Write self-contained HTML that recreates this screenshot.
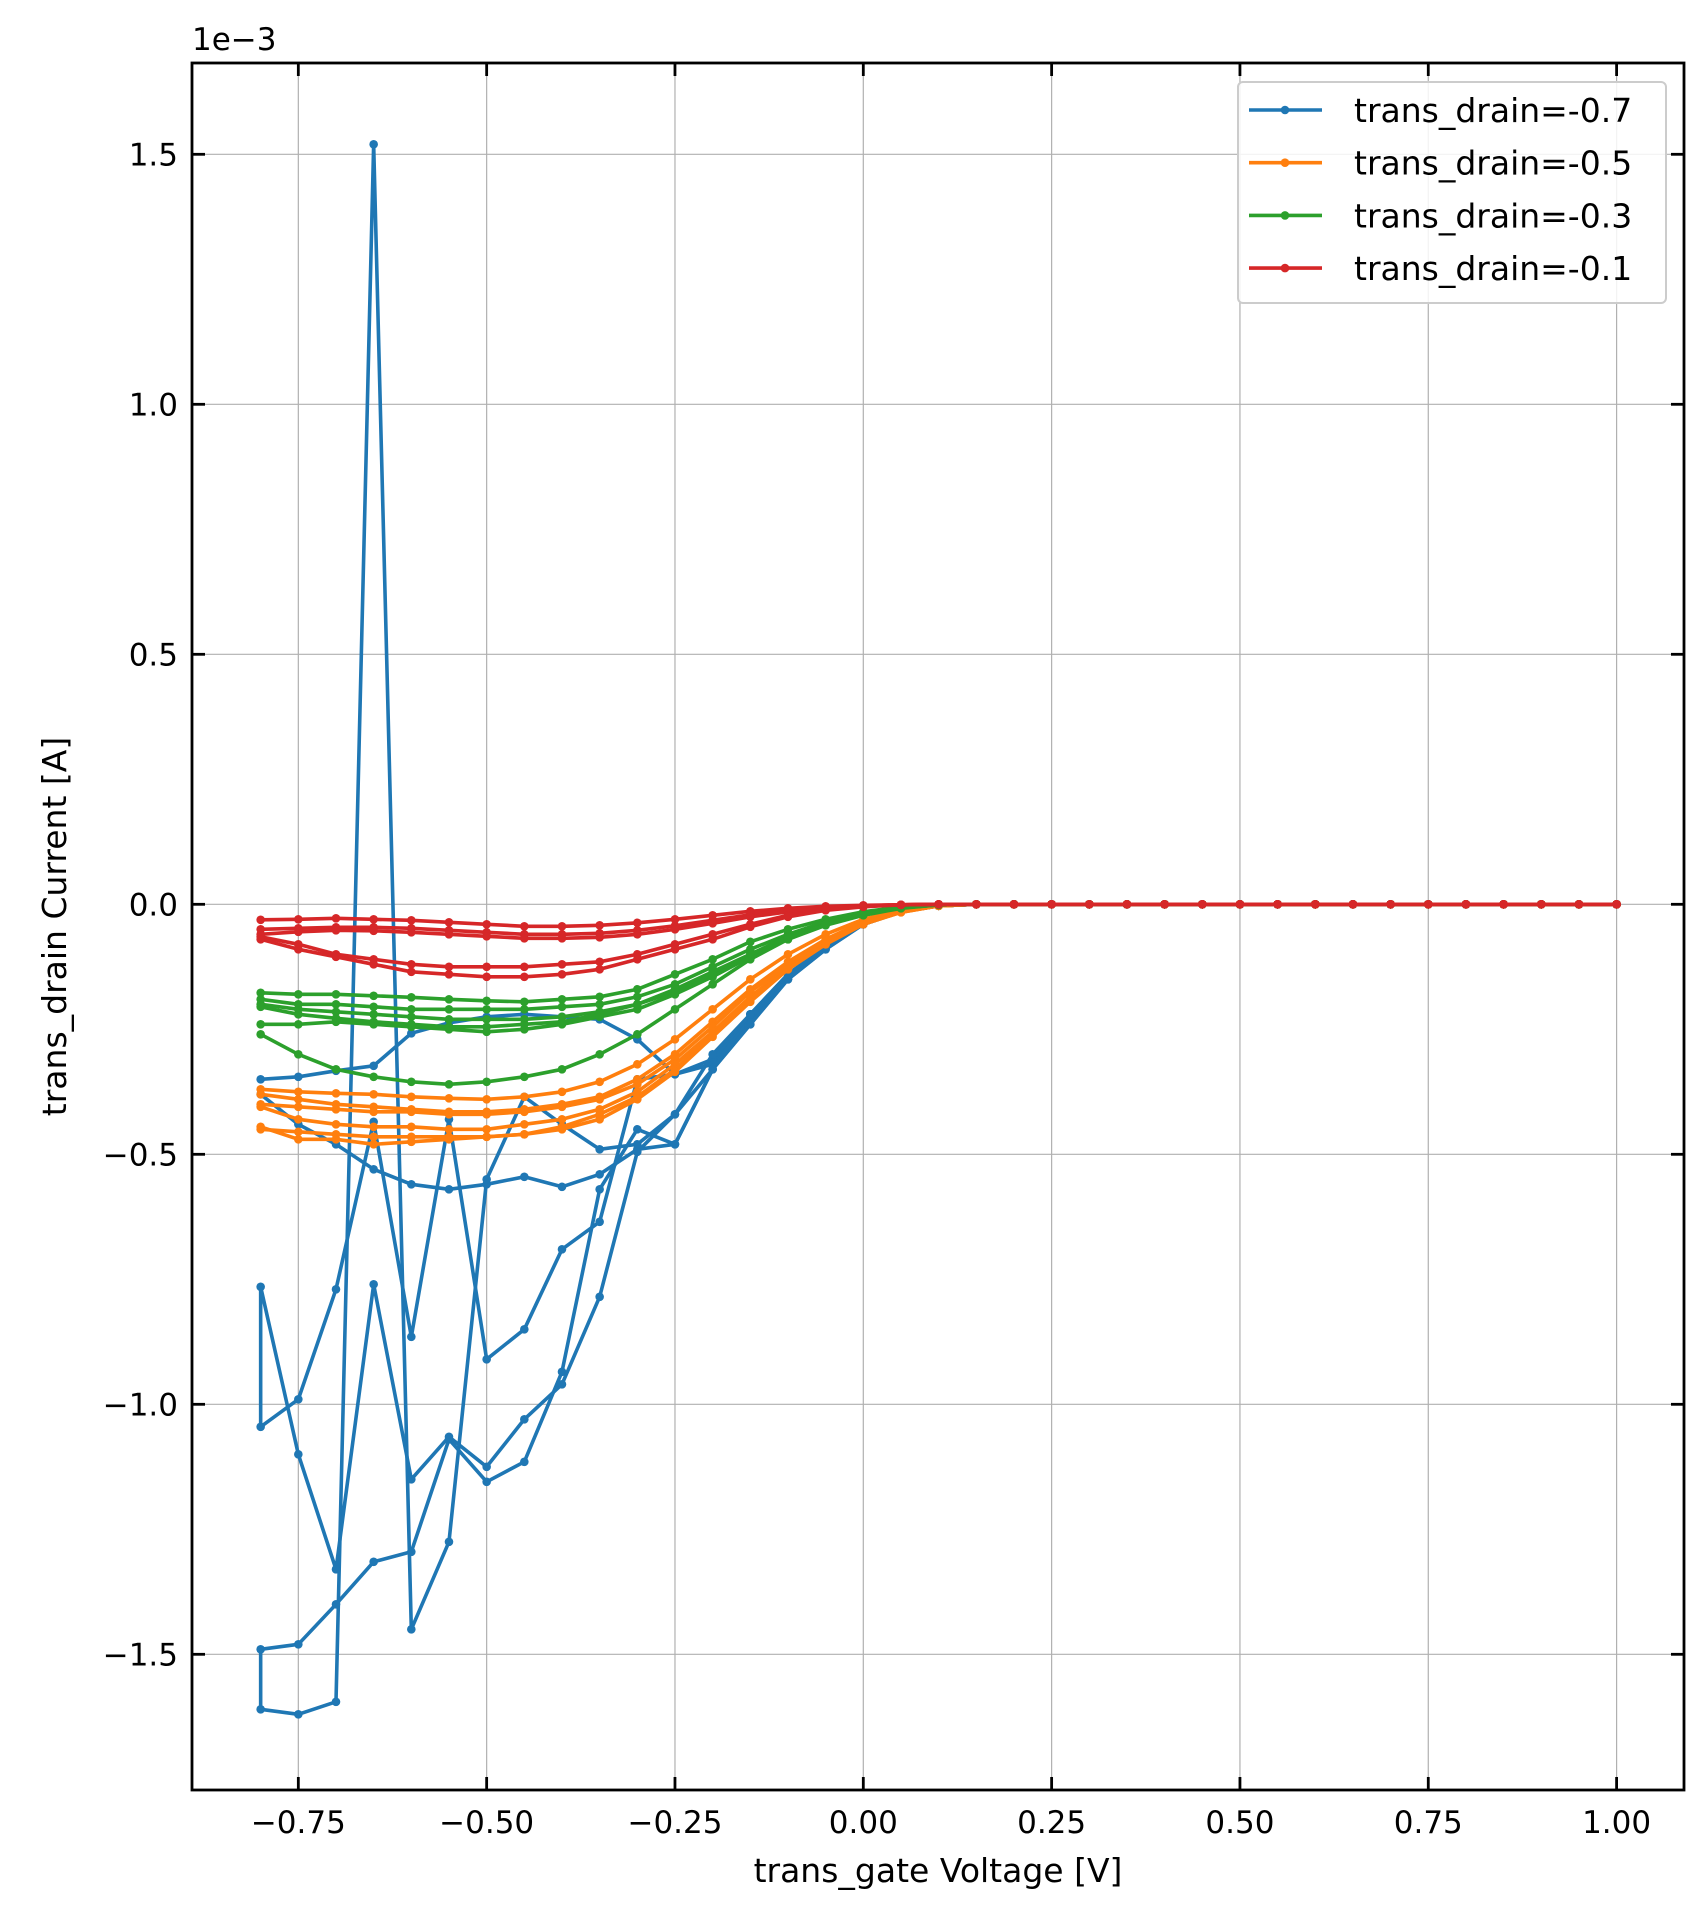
<!DOCTYPE html>
<html><head><meta charset="utf-8"><style>
body{margin:0;background:#fff}
svg text{font-family:"DejaVu Sans","Liberation Sans",sans-serif;fill:#000}
</style></head><body>
<svg id="chart" width="1701" height="1902" viewBox="0 0 1701 1902" xmlns="http://www.w3.org/2000/svg">
<rect width="1701" height="1902" fill="#fff"/>
<g id="grid"></g><g id="series"></g><g id="axes"></g><g id="legend"></g>
</svg>
<script>
const xTicks=[-0.75,-0.5,-0.25,0,0.25,0.5,0.75,1.0];
const xTickLabels=["−0.75","−0.50","−0.25","0.00","0.25","0.50","0.75","1.00"];
const yTicks=[-1.5,-1.0,-0.5,0,0.5,1.0,1.5];
const yTickLabels=["−1.5","−1.0","−0.5","0.0","0.5","1.0","1.5"];
const xStart=-0.8, xStep=0.05, nPoints=37;
const seriesNames=["trans_drain=-0.7","trans_drain=-0.5","trans_drain=-0.3","trans_drain=-0.1"];
const seriesColors=["#1f77b4","#ff7f0e","#2ca02c","#d62728"];
const blueCurves=[
[-0.35,-0.345,-0.333,-0.323,-0.258,-0.237,-0.225,-0.22,-0.225,-0.23,-0.27,-0.34,-0.32,-0.23,-0.15,-0.085,-0.04,-0.015,-0.003],
[-0.38,-0.44,-0.48,-0.53,-0.56,-0.57,-0.56,-0.545,-0.565,-0.54,-0.49,-0.48,-0.33,-0.24,-0.15,-0.09,-0.04,-0.015,-0.003],
[-1.61,-1.62,-1.595,1.52,-1.45,-1.275,-0.55,-0.385,-0.44,-0.49,-0.48,-0.42,-0.33,-0.24,-0.15,-0.09,-0.04,-0.015,-0.003],
[-1.49,-1.48,-1.4,-1.315,-1.295,-1.07,-1.155,-1.115,-0.935,-0.57,-0.45,-0.48,-0.33,-0.22,-0.14,-0.085,-0.04,-0.015,-0.003],
[-1.045,-0.99,-0.77,-0.435,-0.865,-0.43,-0.91,-0.85,-0.69,-0.635,-0.35,-0.34,-0.31,-0.22,-0.14,-0.085,-0.04,-0.015,-0.003],
[-0.765,-1.1,-1.33,-0.76,-1.15,-1.065,-1.125,-1.03,-0.96,-0.785,-0.495,-0.42,-0.3,-0.22,-0.14,-0.085,-0.04,-0.015,-0.003]];
const blueLinks=[[-1.49,-1.61],[-0.765,-1.045]];
const orangeCurves=[
[-0.37,-0.375,-0.378,-0.38,-0.385,-0.388,-0.39,-0.385,-0.375,-0.355,-0.32,-0.27,-0.21,-0.15,-0.1,-0.06,-0.03,-0.012,-0.003],
[-0.38,-0.39,-0.4,-0.405,-0.41,-0.415,-0.415,-0.41,-0.4,-0.385,-0.35,-0.3,-0.235,-0.17,-0.115,-0.07,-0.035,-0.014,-0.003],
[-0.4,-0.405,-0.41,-0.415,-0.415,-0.42,-0.42,-0.415,-0.405,-0.39,-0.36,-0.31,-0.245,-0.175,-0.12,-0.072,-0.036,-0.014,-0.003],
[-0.405,-0.43,-0.44,-0.445,-0.445,-0.45,-0.45,-0.44,-0.43,-0.41,-0.375,-0.32,-0.255,-0.185,-0.125,-0.075,-0.038,-0.015,-0.003],
[-0.45,-0.455,-0.46,-0.465,-0.465,-0.465,-0.465,-0.46,-0.445,-0.42,-0.385,-0.33,-0.26,-0.19,-0.13,-0.08,-0.04,-0.016,-0.003],
[-0.445,-0.47,-0.47,-0.48,-0.475,-0.47,-0.465,-0.46,-0.45,-0.43,-0.39,-0.335,-0.265,-0.195,-0.13,-0.08,-0.04,-0.016,-0.003]];
const greenCurves=[
[-0.177,-0.18,-0.18,-0.183,-0.186,-0.19,-0.193,-0.195,-0.19,-0.185,-0.17,-0.14,-0.11,-0.075,-0.05,-0.03,-0.015,-0.005,-0.001],
[-0.19,-0.2,-0.2,-0.205,-0.21,-0.21,-0.21,-0.21,-0.205,-0.2,-0.185,-0.16,-0.125,-0.09,-0.06,-0.035,-0.018,-0.006,-0.001],
[-0.2,-0.21,-0.215,-0.22,-0.225,-0.23,-0.23,-0.23,-0.225,-0.215,-0.2,-0.175,-0.14,-0.1,-0.065,-0.04,-0.02,-0.007,-0.001],
[-0.24,-0.24,-0.235,-0.24,-0.245,-0.25,-0.255,-0.25,-0.24,-0.225,-0.21,-0.18,-0.145,-0.105,-0.07,-0.042,-0.022,-0.008,-0.001],
[-0.205,-0.22,-0.228,-0.235,-0.24,-0.245,-0.245,-0.24,-0.235,-0.22,-0.2,-0.17,-0.135,-0.1,-0.066,-0.04,-0.02,-0.007,-0.001],
[-0.26,-0.3,-0.33,-0.345,-0.355,-0.36,-0.355,-0.345,-0.33,-0.3,-0.26,-0.21,-0.16,-0.11,-0.07,-0.04,-0.02,-0.007,-0.001]];
const redCurves=[
[-0.031,-0.030,-0.028,-0.030,-0.032,-0.036,-0.040,-0.044,-0.044,-0.042,-0.037,-0.030,-0.022,-0.014,-0.008,-0.004,-0.002,-0.001,0],
[-0.050,-0.048,-0.046,-0.046,-0.048,-0.052,-0.056,-0.060,-0.060,-0.058,-0.052,-0.043,-0.032,-0.021,-0.012,-0.006,-0.003,-0.001,0],
[-0.060,-0.055,-0.052,-0.053,-0.056,-0.060,-0.064,-0.068,-0.068,-0.066,-0.060,-0.050,-0.038,-0.025,-0.015,-0.008,-0.003,-0.001,0],
[-0.065,-0.08,-0.1,-0.11,-0.12,-0.125,-0.125,-0.125,-0.12,-0.115,-0.1,-0.08,-0.06,-0.04,-0.022,-0.01,-0.004,-0.001,0],
[-0.07,-0.09,-0.105,-0.12,-0.135,-0.14,-0.145,-0.145,-0.14,-0.13,-0.11,-0.09,-0.07,-0.045,-0.025,-0.012,-0.005,-0.001,0]];
const allGroups=[blueCurves,orangeCurves,greenCurves,redCurves];

const L=192,R=1684,T=63,B=1790;
const X=v=>863.3+(v)*753.3;
const Y=v=>904.3-v*500;
const NS="http://www.w3.org/2000/svg";
function mk(tag,attrs,parent){const e=document.createElementNS(NS,tag);for(const k in attrs)e.setAttribute(k,attrs[k]);parent.appendChild(e);return e;}
const grid=document.getElementById('grid'),axes=document.getElementById('axes'),ser=document.getElementById('series'),leg=document.getElementById('legend');
xTicks.forEach((t,i)=>{
  const g=mk('line',{x1:X(t),x2:X(t),y1:T,y2:B,stroke:'#b0b0b0','stroke-width':1.2},grid);
  
  
  mk('line',{x1:X(t),x2:X(t),y1:B,y2:B-13,stroke:'#000','stroke-width':2.8},axes);
  mk('line',{x1:X(t),x2:X(t),y1:T,y2:T+13,stroke:'#000','stroke-width':2.8},axes);
  const tx=mk('text',{x:X(t),y:B+43,'text-anchor':'middle','font-size':31},axes);
  tx.textContent=xTickLabels[i];
  
  
});
yTicks.forEach((t,i)=>{
  const g=mk('line',{x1:L,x2:R,y1:Y(t),y2:Y(t),stroke:'#b0b0b0','stroke-width':1.2},grid);
  
  
  mk('line',{x1:L,x2:L+13,y1:Y(t),y2:Y(t),stroke:'#000','stroke-width':2.8},axes);
  mk('line',{x1:R,x2:R-13,y1:Y(t),y2:Y(t),stroke:'#000','stroke-width':2.8},axes);
  const tx=mk('text',{x:L-14,y:Y(t)+11,'text-anchor':'end','font-size':31},axes);
  tx.textContent=yTickLabels[i];
  
  
});
blueLinks.forEach(l=>{
  const s=mk('line',{x1:X(xStart),x2:X(xStart),y1:Y(l[0]),y2:Y(l[1]),stroke:seriesColors[0],'stroke-width':3.6},ser);
  
  
});
allGroups.forEach((grp,gi)=>{
  grp.forEach((c,ci)=>{
    const vals=[];for(let i=0;i<nPoints;i++)vals.push(i<c.length?c[i]:0);
    const pts=vals.map((v,i)=>[X(xStart+i*xStep),Y(v)]);
    const p=mk('polyline',{points:pts.map(p=>p.join(',')).join(' '),fill:'none',stroke:seriesColors[gi],'stroke-width':3.6,'stroke-linejoin':'round'},ser);
    
    
    pts.forEach(q=>{
      const m=mk('circle',{cx:q[0],cy:q[1],r:4.3,fill:seriesColors[gi]},ser);
      
      
    });
  });
});
const frame=mk('rect',{x:L,y:T,width:R-L,height:B-T,fill:'none',stroke:'#000','stroke-width':2.8},axes);


const lb=mk('rect',{x:1238,y:82,width:428,height:221,rx:5,fill:'#fff','fill-opacity':0.85,stroke:'#ccc','stroke-width':2},leg);


seriesNames.forEach((n,i)=>{
  const y=110+i*52.7;
  mk('line',{x1:1249,x2:1322,y1:y,y2:y,stroke:seriesColors[i],'stroke-width':3.6},leg);
  mk('circle',{cx:1285,cy:y,r:4.3,fill:seriesColors[i]},leg);
  const t=mk('text',{x:1354,y:y+12,'font-size':33},leg);
  t.textContent=n;
  
  
});
const xl=mk('text',{x:(L+R)/2,y:1882,'text-anchor':'middle','font-size':33},axes);
xl.textContent='trans_gate Voltage [V]';


const yl=mk('text',{x:0,y:0,'text-anchor':'middle','font-size':33,transform:'translate(66,'+((T+B)/2)+') rotate(-90)'},axes);
yl.textContent='trans_drain Current [A]';


const ex=mk('text',{x:192,y:50,'font-size':31},axes);
ex.textContent='1e−3';


</script>
</body></html>
